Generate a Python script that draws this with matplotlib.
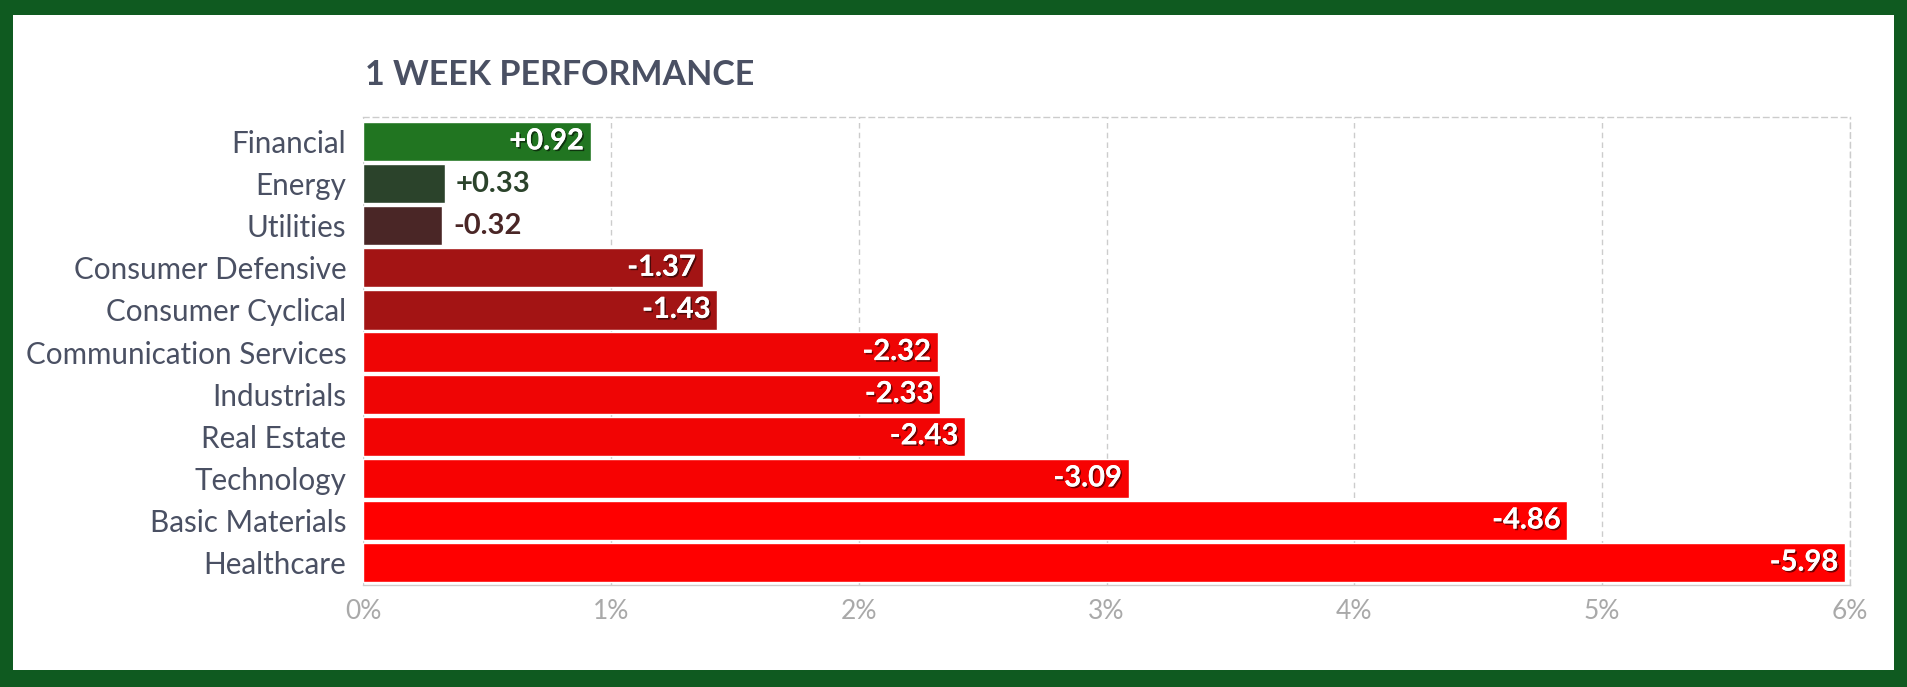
import matplotlib
matplotlib.use("Agg")
import matplotlib.pyplot as plt
import matplotlib.patheffects as pe
from matplotlib.patches import Rectangle
from matplotlib.ticker import FuncFormatter

sectors = ["Financial", "Energy", "Utilities", "Consumer Defensive", "Consumer Cyclical",
           "Communication Services", "Industrials", "Real Estate", "Technology",
           "Basic Materials", "Healthcare"]
changes = [0.92, 0.33, -0.32, -1.37, -1.43, -2.32, -2.33, -2.43, -3.09, -4.86, -5.98]
bar_colors = ["#217521", "#2b432b", "#4a2626", "#a31414", "#a31414", "#ef0505",
              "#ef0505", "#f20404", "#f70202", "#ff0000", "#ff0000"]
label_colors_outside = {"Energy": "#2b432b", "Utilities": "#4a2626"}
xticks = [0, 1, 2, 3, 4, 5, 6]

plt.rcParams['font.family'] = ['Lato', 'DejaVu Sans']

W, H = 1908, 687
fig = plt.figure(figsize=(W / 100, H / 100), dpi=100, facecolor="#0f5a20")
bg = Rectangle((13 / W, 1 - 670 / H), (1894 - 13) / W, (670 - 15) / H,
               transform=fig.transFigure, facecolor="white", edgecolor="none", zorder=-10)
fig.patches.append(bg)

ax = fig.add_axes([363 / W, 1 - 585 / H, (1850 - 363) / W, (585 - 117) / H])
ax.set_zorder(1)
ax.set_facecolor("none")

mags = [abs(v) for v in changes]
ypos = list(range(len(sectors)))
ax.barh(ypos, mags, height=0.93, color=bar_colors, edgecolor="white", linewidth=1, zorder=2)

ax.set_xlim(0, 6)
ax.set_ylim(10.53, -0.58)
ax.set_xticks(xticks)
ax.xaxis.set_major_formatter(FuncFormatter(lambda v, p: f"{int(v)}%"))
ax.tick_params(axis='x', length=0, pad=10, labelsize=19, labelcolor="#a9a9a9")
ax.set_yticks(ypos)
ax.set_yticklabels(sectors)
ax.tick_params(axis='y', length=0, pad=12, labelsize=21.3, labelcolor="#4a5063")

ax.grid(axis='x', linestyle=(0, (4, 3)), color="#cccccc", linewidth=1, zorder=1)
ax.set_axisbelow(True)
ax.spines["left"].set_visible(False)
for side in ["top", "right", "bottom"]:
    ax.spines[side].set_linestyle((0, (4, 3)))
    ax.spines[side].set_color("#cccccc")
    ax.spines[side].set_linewidth(1)
ax.spines["bottom"].set_linestyle((0, (1, 1)))

shadow = [pe.withSimplePatchShadow(offset=(1.2, -1.2), shadow_rgbFace="black", alpha=0.55), pe.Normal()]
for i, (name, v) in enumerate(zip(sectors, changes)):
    txt = f"{v:+.2f}"
    m = abs(v)
    if m >= 0.5:
        ax.annotate(txt, (m, i), xytext=(-5, 0), textcoords="offset points",
                    ha="right", va="center", fontsize=21, fontweight="bold",
                    color="white", path_effects=shadow, zorder=3)
    else:
        ax.annotate(txt, (m, i), xytext=(8, 0), textcoords="offset points",
                    ha="left", va="center", fontsize=21, fontweight="bold",
                    color=label_colors_outside.get(name, "#333333"), zorder=3)

fig.text(365 / W, 1 - 85 / H, "1 WEEK PERFORMANCE", ha="left", va="baseline",
         fontsize=24.5, fontweight="bold", color="#4a5063")

fig.savefig("out.png", dpi=100, facecolor=fig.get_facecolor())
